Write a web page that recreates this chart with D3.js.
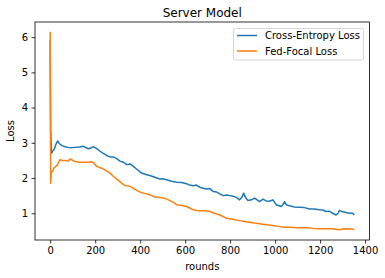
<!DOCTYPE html>
<html><head><meta charset="utf-8">
<script src="https://cdn.jsdelivr.net/npm/d3@7"></script>
<style>body{margin:0;background:#fff}svg{display:block;font-family:"DejaVu Sans",sans-serif}</style>
</head><body><svg id="c" width="385" height="278"></svg>
<script>
const title = "Server Model";
const xLabel = "rounds";
const yLabel = "Loss";
const seriesNames = ["Cross-Entropy Loss", "Fed-Focal Loss"];
const seriesColors = ["#1f77b4", "#ff7f0e"];
const xTicks = [0, 200, 400, 600, 800, 1000, 1200, 1400];
const yTicks = [1, 2, 3, 4, 5, 6];
const ceLoss = [[0,5.9],[2,3.4],[5,2.71],[8,2.72],[12,2.78],[18,2.82],[25,2.95],[30,3.02],[34,3.05],[40,2.98],[52,2.92],[66,2.89],[80,2.87],[89,2.86],[110,2.87],[130,2.88],[148,2.9],[160,2.86],[170,2.83],[180,2.85],[192,2.89],[205,2.84],[222,2.76],[236,2.7],[251,2.64],[266,2.6],[281,2.6],[296,2.55],[310,2.48],[325,2.45],[340,2.38],[355,2.4],[370,2.33],[385,2.25],[406,2.14],[425,2.1],[443,2.07],[465,2.02],[488,1.97],[500,1.98],[517,1.95],[540,1.91],[562,1.88],[585,1.87],[606,1.84],[620,1.8],[636,1.78],[650,1.8],[665,1.74],[680,1.71],[695,1.69],[710,1.7],[724,1.62],[740,1.6],[754,1.55],[770,1.5],[783,1.52],[800,1.5],[813,1.48],[828,1.45],[842,1.38],[852,1.45],[860,1.57],[868,1.45],[879,1.36],[895,1.38],[909,1.43],[920,1.38],[931,1.33],[946,1.4],[960,1.35],[975,1.34],[990,1.38],[1005,1.24],[1015,1.22],[1027,1.19],[1035,1.24],[1042,1.33],[1050,1.24],[1064,1.21],[1085,1.18],[1108,1.17],[1130,1.16],[1153,1.12],[1175,1.12],[1197,1.1],[1212,1.09],[1227,1.05],[1240,1.06],[1256,1.0],[1271,0.95],[1280,1.0],[1286,1.08],[1300,1.04],[1315,1.02],[1330,1.0],[1345,1.0],[1352,0.95]];
const ffLoss = [[0,6.15],[2,1.85],[4,2.1],[7,2.19],[12,2.2],[16,2.28],[22,2.31],[30,2.36],[38,2.45],[44,2.52],[55,2.5],[66,2.5],[78,2.48],[89,2.54],[100,2.5],[111,2.47],[130,2.45],[148,2.45],[165,2.45],[185,2.46],[195,2.42],[207,2.33],[220,2.3],[236,2.26],[250,2.2],[266,2.14],[280,2.05],[296,1.97],[315,1.87],[333,1.78],[350,1.77],[362,1.74],[384,1.65],[400,1.6],[414,1.57],[430,1.55],[443,1.52],[466,1.46],[485,1.45],[503,1.43],[520,1.4],[532,1.36],[550,1.3],[562,1.24],[585,1.22],[606,1.19],[620,1.15],[636,1.1],[650,1.08],[665,1.07],[690,1.07],[710,1.05],[730,1.0],[754,0.95],[770,0.9],[783,0.86],[810,0.83],[842,0.79],[870,0.76],[902,0.73],[930,0.7],[961,0.67],[990,0.65],[1020,0.62],[1040,0.6],[1064,0.6],[1100,0.59],[1138,0.59],[1170,0.57],[1197,0.56],[1230,0.56],[1256,0.56],[1286,0.53],[1300,0.55],[1315,0.56],[1335,0.55],[1352,0.54]];

const svg = d3.select("#c");
const L = 35, R = 369.5, T = 22, B = 240;
const x = d3.scaleLinear().domain([-67.6, 1419.6]).range([L, R]);
const y = d3.scaleLinear().domain([0.24, 6.43]).range([B, T]);

const line = d3.line().x(d => x(d[0])).y(d => y(d[1]));
[ceLoss, ffLoss].forEach((s, i) => {
  svg.append("path").datum(s).attr("d", line).attr("fill", "none")
    .attr("stroke", seriesColors[i]).attr("stroke-width", 1.5).attr("stroke-linejoin", "round");
});

const xa = svg.append("g").attr("transform", `translate(0,${B})`)
  .call(d3.axisBottom(x).tickValues(xTicks).tickSize(3.5).tickPadding(3.5).tickFormat(d3.format("d")));
const ya = svg.append("g").attr("transform", `translate(${L},0)`)
  .call(d3.axisLeft(y).tickValues(yTicks).tickSize(3.5).tickPadding(3.5).tickFormat(d3.format("d")));
[xa, ya].forEach(a => {
  a.select(".domain").remove();
  a.selectAll("text").attr("font-size", 10).attr("fill", "#000").style("font-family", "DejaVu Sans");
  a.selectAll("line").attr("stroke", "#000").attr("stroke-width", 0.8);
});

svg.append("rect").attr("x", L).attr("y", T).attr("width", R - L).attr("height", B - T)
  .attr("fill", "none").attr("stroke", "#000").attr("stroke-width", 0.8);

svg.append("text").attr("x", (L + R) / 2).attr("y", 17).attr("text-anchor", "middle")
  .attr("font-size", 12).text(title);
svg.append("text").attr("x", (L + R) / 2).attr("y", 270).attr("text-anchor", "middle")
  .attr("font-size", 10).text(xLabel);
svg.append("text").attr("transform", `translate(14,${(T + B) / 2}) rotate(-90)`).attr("text-anchor", "middle")
  .attr("font-size", 10).text(yLabel);

const lg = svg.append("g");
lg.append("rect").attr("x", 233.5).attr("y", 28.5).attr("width", 130).attr("height", 31.5).attr("rx", 2)
  .attr("fill", "#fff").attr("fill-opacity", 0.8).attr("stroke", "#ccc").attr("stroke-width", 0.8);
seriesNames.forEach((n, i) => {
  const yy = 35.5 + i * 15.5;
  lg.append("line").attr("x1", 237).attr("x2", 257).attr("y1", yy).attr("y2", yy)
    .attr("stroke", seriesColors[i]).attr("stroke-width", 1.5);
  lg.append("text").attr("x", 265).attr("y", yy + 3.5).attr("font-size", 10).text(n);
});
</script></body></html>
